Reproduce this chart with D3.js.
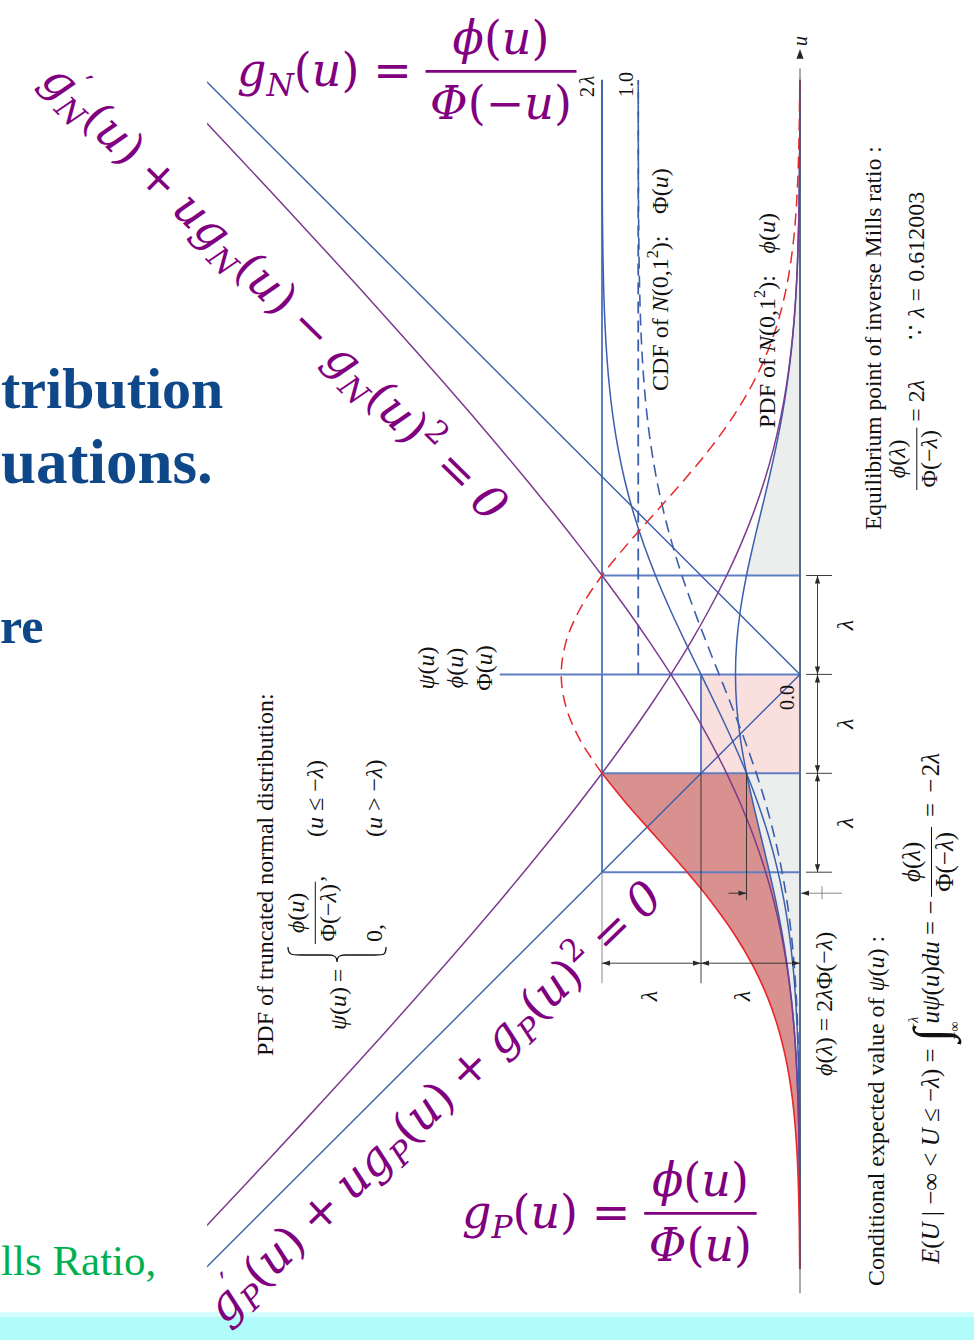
<!DOCTYPE html>
<html>
<head>
<meta charset="utf-8">
<script src="https://cdn.jsdelivr.net/npm/d3@7"></script>
<style>
  body { margin: 0; background: #fff; }
  svg { display: block; }
</style>
</head>
<body>
<svg id="chart" width="974" height="1340"></svg>
<script>
// Equilibrium point of the inverse Mills ratio: phi(l)/Phi(-l) = 2l
const LAMBDA = 0.612003;

// Standard normal N(0,1) tabulated on a grid of u
const uValues = [-3.7,-3.6,-3.4,-3.2,-3.0,-2.8,-2.6,-2.4,-2.2,-2.0,-1.8,-1.6,-1.4,-1.2,-1.0,-0.8,-0.612003,-0.4,-0.2,0,
                 0.2,0.4,0.612003,0.8,1.0,1.2,1.4,1.6,1.8,2.0,2.2,2.4,2.6,2.8,3.0,3.2,3.4,3.6,3.7];
const pdfValues = [0.000425,0.000612,0.001232,0.002384,0.004432,0.007915,0.013583,0.022395,0.035475,0.053991,
                   0.078950,0.110921,0.149727,0.194186,0.241971,0.289692,0.330811,0.368270,0.391043,0.398942,
                   0.391043,0.368270,0.330811,0.289692,0.241971,0.194186,0.149727,0.110921,0.078950,0.053991,
                   0.035475,0.022395,0.013583,0.007915,0.004432,0.002384,0.001232,0.000612,0.000425];
const cdfValues = [0.00010780,0.00015911,0.00033693,0.00068714,0.0013499,0.002555,0.004661,0.008198,0.013903,0.022750,
                   0.035930,0.054799,0.080757,0.115070,0.158655,0.211855,0.270269,0.344578,0.420740,0.5,
                   0.579260,0.655422,0.729731,0.788145,0.841345,0.884930,0.919243,0.945201,0.964070,0.977250,
                   0.986097,0.991802,0.995339,0.997445,0.9986501,0.99931286,0.99966307,0.99984089,0.99989220];

// Guide levels on the u axis and on the value axis
const uLevels = [LAMBDA, 0, -LAMBDA, -2 * LAMBDA];
const uRange = [-3.68, 3.68];
const valueMax = 3.665;
const valueTickLabels = ["2λ", "1.0", "0.0"];
const slideLines = ["tribution", "uations.", "re"];
const slideFooter = "lls Ratio,";

// ---------------------------------------------------------------
const svg = d3.select("#chart");
const W = 974, H = 1340;

// u runs upward, function values run leftward (figure turned a quarter turn)
const yU = d3.scaleLinear().domain([-LAMBDA, LAMBDA]).range([773.3, 575.5]);
const xV = d3.scaleLinear().domain([0, 2 * LAMBDA]).range([800, 602]);

const idxNegL = uValues.indexOf(-0.612003);
const PhiNegL = cdfValues[idxNegL];
const phiL = pdfValues[idxNegL];

const rows = uValues.map((u, i) => {
  const pdf = pdfValues[i], cdf = cdfValues[i];
  return {
    u, pdf, cdf,
    gN: pdf / (1 - cdf),
    gP: pdf / cdf,
    psi: pdf / PhiNegL,
    twoLCdf: 2 * LAMBDA * cdf
  };
});
const eps = 1e-9;
const upperTail = rows.filter(d => d.u >= LAMBDA - eps);
const lowerTail = rows.filter(d => d.u <= -LAMBDA + eps);
const beyond = rows.filter(d => d.u >= -LAMBDA - eps);

const C = {
  ref: "#5f7fc2", blue: "#3b5fac", purple: "#7b3b8e", red: "#e8262b",
  redFill: "#d99190", pink: "#f9dfde", gray: "#eceeee", dim: "#2a2a2a", ext: "#8a8a8a"
};

// ---------------- slide backdrop ----------------
svg.append("rect").attr("x", 0).attr("y", 1312).attr("width", W).attr("height", 28).attr("fill", "#b1fbfb");
svg.append("rect").attr("x", 0).attr("y", 1312).attr("width", W).attr("height", 5).attr("fill", "#d4fdfd");

const titleFont = '"Liberation Serif", "Times New Roman", serif';
[[1, 408, 58], [1, 483, 63], [0, 643, 50]].forEach((p, i) => {
  svg.append("text").attr("x", p[0]).attr("y", p[1])
    .attr("font-family", titleFont).attr("font-weight", "bold").attr("font-size", p[2])
    .attr("fill", "#0f4888").text(slideLines[i]);
});
svg.append("text").attr("x", 1).attr("y", 1275)
  .attr("font-family", titleFont).attr("font-size", 43).attr("fill", "#00b050").text(slideFooter);

// ---------------- plot ----------------
const defs = svg.append("defs");
defs.append("clipPath").attr("id", "plotClip").append("rect")
  .attr("x", xV(valueMax)).attr("y", yU(uRange[1]))
  .attr("width", 812 - xV(valueMax)).attr("height", yU(uRange[0]) - yU(uRange[1]));

const plot = svg.append("g").attr("clip-path", "url(#plotClip)");
const smooth = d3.curveCatmullRom.alpha(0.5);

const lineOf = key => d3.line().x(d => xV(d[key])).y(d => yU(d.u)).curve(smooth);
const areaOf = (k0, k1) => d3.area().y(d => yU(d.u))
  .x0(d => k0 === null ? xV(0) : xV(d[k0])).x1(d => xV(d[k1])).curve(smooth);

// pink square: u in [-l, 0], value in [0, l]
plot.append("rect")
  .attr("x", xV(LAMBDA)).attr("y", yU(0))
  .attr("width", xV(0) - xV(LAMBDA)).attr("height", yU(-LAMBDA) - yU(0))
  .attr("fill", C.pink);

// tails of phi beyond +-lambda
[upperTail, lowerTail].forEach(part => {
  plot.append("path").datum(part).attr("d", areaOf(null, "pdf")).attr("fill", C.gray);
});
// truncated density minus phi, u <= -lambda
plot.append("path").datum(lowerTail).attr("d", areaOf("pdf", "psi")).attr("fill", C.redFill);

// reference grid
const refLine = (x1, y1, x2, y2, color, w) => plot.append("line")
  .attr("x1", x1).attr("y1", y1).attr("x2", x2).attr("y2", y2)
  .attr("stroke", color).attr("stroke-width", w);

refLine(xV(0), yU(uRange[1]), xV(0), yU(uRange[0]), C.ref, 2);
refLine(xV(2 * LAMBDA), yU(uRange[1]), xV(2 * LAMBDA), yU(-2 * LAMBDA), C.ref, 2);
uLevels.forEach(u => {
  const far = u === 0 ? 1.856 : 2 * LAMBDA;
  refLine(xV(0), yU(u), xV(far), yU(u), C.ref, 2);
});
refLine(xV(LAMBDA), yU(0), xV(LAMBDA), yU(-LAMBDA), C.ref, 2);

// value 1.0 guide for u >= 0
plot.append("line").attr("x1", xV(1)).attr("x2", xV(1)).attr("y1", yU(0)).attr("y2", yU(uRange[1]))
  .attr("stroke", C.blue).attr("stroke-width", 1.8).attr("stroke-dasharray", "12,7");

// CDF (dashed)
plot.append("path").datum(rows).attr("d", lineOf("cdf"))
  .attr("fill", "none").attr("stroke", C.blue).attr("stroke-width", 1.6).attr("stroke-dasharray", "12,7");

// |u| asymptotes
const absPts = [{u: -3.7, v: 3.7}, {u: 0, v: 0}, {u: 3.7, v: 3.7}];
plot.append("path").datum(absPts)
  .attr("d", d3.line().x(d => xV(d.v)).y(d => yU(d.u)))
  .attr("fill", "none").attr("stroke", C.blue).attr("stroke-width", 1.4);

// phi and 2*lambda*Phi
["pdf", "twoLCdf"].forEach(k => {
  plot.append("path").datum(rows).attr("d", lineOf(k))
    .attr("fill", "none").attr("stroke", C.blue).attr("stroke-width", 1.5);
});

// inverse Mills ratios
["gN", "gP"].forEach(k => {
  plot.append("path").datum(rows).attr("d", lineOf(k))
    .attr("fill", "none").attr("stroke", C.purple).attr("stroke-width", 1.5);
});

// phi / Phi(-lambda): dashed beyond -lambda, solid on the truncated side
plot.append("path").datum(beyond).attr("d", lineOf("psi"))
  .attr("fill", "none").attr("stroke", C.red).attr("stroke-width", 1.5).attr("stroke-dasharray", "12,7");
plot.append("path").datum(lowerTail).attr("d", lineOf("psi"))
  .attr("fill", "none").attr("stroke", C.red).attr("stroke-width", 1.6);

// ---------------- axis ----------------
svg.append("line").attr("x1", 800).attr("x2", 800).attr("y1", yU(-3.83)).attr("y2", yU(3.75))
  .attr("stroke", "#555").attr("stroke-width", 1);
svg.append("path").attr("d", `M800,${yU(3.87)} L796.5,${yU(3.81)} L803.5,${yU(3.81)} Z`).attr("fill", "#222");

// ---------------- dimension marks ----------------
const dimG = svg.append("g");
const dline = (x1, y1, x2, y2, color, w) => dimG.append("line")
  .attr("x1", x1).attr("y1", y1).attr("x2", x2).attr("y2", y2)
  .attr("stroke", color || C.dim).attr("stroke-width", w || 0.9);
function arrowHead(x, y, dx, dy) {
  const L = 8, hw = 2.6;
  const n = Math.hypot(dx, dy), ux = dx / n, uy = dy / n;
  const bx = x - ux * L, by = y - uy * L;
  dimG.append("path")
    .attr("d", `M${x},${y} L${bx - uy * hw},${by + ux * hw} L${bx + uy * hw},${by - ux * hw} Z`)
    .attr("fill", C.dim);
}
function dimSpan(x1, y1, x2, y2) {
  dline(x1, y1, x2, y2);
  arrowHead(x1, y1, x1 - x2, y1 - y2);
  arrowHead(x2, y2, x2 - x1, y2 - y1);
}

// extension lines below the plot
const yDim = yU(-2 * LAMBDA) + 91;
dline(xV(2 * LAMBDA), yU(-2 * LAMBDA), xV(2 * LAMBDA), yDim + 20, C.ext, 1);
dline(xV(LAMBDA), yU(-LAMBDA), xV(LAMBDA), yDim + 20, C.dim, 0.9);
dline(xV(phiL), yU(-LAMBDA), xV(phiL), yU(-2 * LAMBDA) + 28, C.dim, 0.9);
dimSpan(xV(2 * LAMBDA), yDim, xV(LAMBDA), yDim);
dimSpan(xV(LAMBDA), yDim, xV(0), yDim);

// right-hand span ticks
const xR = 817.5;
uLevels.forEach(u => dline(806, yU(u), 832, yU(u), C.dim, 0.9));
for (let i = 0; i < uLevels.length - 1; i++) dimSpan(xR, yU(uLevels[i]), xR, yU(uLevels[i + 1]));

// phi(lambda) width marker
const yPhi = yU(-2 * LAMBDA) + 21;
dline(xV(phiL) - 18, yPhi, xV(phiL), yPhi);
arrowHead(xV(phiL), yPhi, 1, 0);
dline(842, yPhi, xV(0) + 1, yPhi, C.ext, 1);
arrowHead(xV(0) + 1, yPhi, -1, 0);
dline(822, yPhi - 7, 822, yPhi + 6, C.ext, 1);

// ---------------- typesetting helpers ----------------
const SERIF = {size: 24, family: '"Liberation Serif", "Times New Roman", serif', fill: "#111",
               num: 0.78, den: 0.55, axis: 0.3, rule: 1, pad: 0.1};
const MATH = {size: 46, family: '"DejaVu Serif", serif', fill: "#800080",
              num: 0.7, den: 0.72, axis: 0.32, rule: 2.8, pad: 0.1};

function row(g, items, x, base, st) {
  let cur = x;
  for (const it of items) {
    if (typeof it === "string" || it.i !== undefined) {
      const txt = (typeof it === "string" ? it : it.i).replace(/ /g, "\u00A0");
      const t = g.append("text").attr("x", cur).attr("y", base)
        .attr("font-size", st.size).attr("font-family", st.family).attr("fill", st.fill)
        .attr("font-style", typeof it === "string" ? "normal" : "italic").text(txt);
      cur += t.node().getComputedTextLength();
    } else if (it.sp !== undefined) {
      cur += it.sp * st.size;
    } else if (it.sub || it.sup) {
      const s2 = Object.assign({}, st, {size: st.size * 0.68});
      let w1 = 0, w2 = 0;
      if (it.sup) w1 = row(g, it.sup, cur, base - st.size * 0.4, s2) - cur;
      if (it.sub) w2 = row(g, it.sub, cur, base + st.size * 0.22, s2) - cur;
      cur += Math.max(w1, w2);
    } else if (it.frac) {
      const gn = g.append("g"), gd = g.append("g");
      const wn = row(gn, it.frac[0], 0, base - st.num * st.size, st);
      const wd = row(gd, it.frac[1], 0, base + st.den * st.size, st);
      const pad = st.size * st.pad;
      const wf = Math.max(wn, wd) + 2 * pad;
      gn.attr("transform", `translate(${cur + (wf - wn) / 2},0)`);
      gd.attr("transform", `translate(${cur + (wf - wd) / 2},0)`);
      const ya = base - st.axis * st.size;
      g.append("line").attr("x1", cur).attr("x2", cur + wf).attr("y1", ya).attr("y2", ya)
        .attr("stroke", st.fill).attr("stroke-width", st.rule);
      cur += wf;
    } else if (it.int) {
      const t = g.append("text").attr("x", cur).attr("y", base + st.size * 0.35)
        .attr("font-size", st.size * 2.0).attr("font-family", st.family).attr("fill", st.fill)
        .text("∫");
      const wi = t.node().getComputedTextLength();
      const s2 = Object.assign({}, st, {size: st.size * 0.55});
      row(g, it.int[1], cur + wi * 0.85, base - st.size * 0.85, s2);
      row(g, it.int[0], cur + wi * 0.2, base + st.size * 0.8, s2);
      cur += wi + st.size * 0.2;
    }
  }
  return cur;
}
// group turned so text runs upward
const rot = (x, y) => svg.append("g").attr("transform", `translate(${x},${y}) rotate(-90)`);
const rtext = (x, y, items, st) => row(rot(x, y), items, 0, 0, st);
function centered(g, items, base, st) {
  const inner = g.append("g");
  const w = row(inner, items, 0, base, st);
  inner.attr("transform", `translate(${-w / 2},0)`);
  return w;
}
const S = (o) => Object.assign({}, SERIF, o || {});
const sp = {sp: 0.25};

// ---------------- axis & guide labels ----------------
centered(rot(807, 41), [{i: "u"}], 0, S({size: 20}));
rtext(594, 97, ["2", {sp: 0.12}, {i: "λ"}], S({size: 20}));
rtext(633, 97, [valueTickLabels[1]], S({size: 20}));
rtext(794, 710, [valueTickLabels[2]], S({size: 20}));

rtext(668, 391, ["CDF of ", {i: "N"}, "(0,1", {sup: ["2"]}, "):", {sp: 0.9}, "Φ(", {i: "u"}, ")"], S());
rtext(775, 428, ["PDF of ", {i: "N"}, "(0,1", {sup: ["2"]}, "):", {sp: 0.9}, {i: "ϕ"}, "(", {i: "u"}, ")"], S());

[[434, [{i: "ψ"}, "(", {i: "u"}, ")"]], [463, [{i: "ϕ"}, "(", {i: "u"}, ")"]], [492, ["Φ(", {i: "u"}, ")"]]]
  .forEach(([bx, items]) => centered(rot(bx, 668), items, 0, S()));

// lambda spans
[[657, 996], [750, 996], [853, yU(LAMBDA / 2)], [853, yU(-LAMBDA / 2)], [853, yU(-1.5 * LAMBDA)]]
  .forEach(([bx, cy]) => centered(rot(bx, cy), [{i: "λ"}], 0, S()));

rtext(832, 1076, [{i: "ϕ"}, "(", {i: "λ"}, ")", sp, "=", sp, "2", {i: "λ"}, "Φ(−", {i: "λ"}, ")"], S());

// ---------------- text blocks ----------------
rtext(881, 530, ["Equilibrium point of inverse Mills ratio :"], S({size: 23.5}));
{
  const g = rot(924, 490);
  row(g, [{frac: [[{i: "ϕ"}, "(", {i: "λ"}, ")"], ["Φ(−", {i: "λ"}, ")"]]}, sp, "=", sp, "2", {i: "λ"}], 0, 0, S());
  row(g, ["∵", {sp: 0.3}, {i: "λ"}, sp, "=", sp, "0.612003"], 150, 0, S());
}

rtext(884, 1286, ["Conditional expected value of ", {i: "ψ"}, "(", {i: "u"}, ") :"], S());
{
  const st = S({size: 25, pad: 0.2});
  const wide = {sp: 0.4};
  rtext(939, 1264, [
    {i: "E"}, "(", {i: "U"}, " | −∞", sp, "<", sp, {i: "U"}, sp, "≤", sp, "−", {i: "λ"}, ")", sp, "=", sp,
    {int: [["−∞"], ["−", {i: "λ"}]]}, {i: "uψ"}, "(", {i: "u"}, ")", {i: "du"}, sp, "=", sp, "−", {sp: 0.15},
    {frac: [[{i: "ϕ"}, "(", {i: "λ"}, ")"], ["Φ(−", {i: "λ"}, ")"]]}, wide, "=", wide, "−", {sp: 0.1}, "2", {i: "λ"}
  ], st);
}

rtext(273, 1056, ["PDF of truncated normal distribution:"], S());
{
  const g = rot(346, 1030);
  const st = S();
  row(g, [{i: "ψ"}, "(", {i: "u"}, ")", {sp: 0.2}, "="], 0, 0, st);
  // brace
  g.append("path")
    .attr("d", "M83,-58 C75,-58 75,-54 75,-45 L75,-17 C75,-11 73,-9 68,-9 C73,-9 75,-7 75,-1 L75,29 C75,38 75,40 83,40")
    .attr("fill", "none").attr("stroke", "#111").attr("stroke-width", 1.3);
  row(g, [{frac: [[{i: "ϕ"}, "(", {i: "u"}, ")"], ["Φ(−", {i: "λ"}, ")"]]}, ","], 86, -23.5, st);
  row(g, ["(", {i: "u"}, sp, "≤", sp, "−", {i: "λ"}, ")"], 193, -23, st);
  row(g, ["0,"], 88, 36, st);
  row(g, ["(", {i: "u"}, sp, ">", sp, "−", {i: "λ"}, ")"], 193, 36, st);
}

// ---------------- large purple formulas ----------------
const phiU = [{i: "ϕ"}, "(", {i: "u"}, ")"];
row(svg.append("g"), [{i: "g"}, {sub: [{i: "N"}]}, "(", {i: "u"}, ")", {sp: 0.3}, "=", {sp: 0.3},
  {frac: [phiU, [{i: "Φ"}, "(−", {i: "u"}, ")"]]}], 237, 86, MATH);
row(svg.append("g"), [{i: "g"}, {sub: [{i: "P"}]}, "(", {i: "u"}, ")", {sp: 0.3}, "=", {sp: 0.3},
  {frac: [phiU, [{i: "Φ"}, "(", {i: "u"}, ")"]]}], 462, 1228, MATH);

function diagonal(items, cx, cy, angle) {
  const outer = svg.append("g");
  const inner = outer.append("g");
  const w = row(inner, items, 0, 0, MATH);
  outer.attr("transform", `translate(${cx},${cy}) rotate(${angle})`);
  inner.attr("transform", `translate(${-w / 2},0)`);
}
const gSub = s => [{i: "g"}, {sub: [{i: s}]}, "(", {i: "u"}, ")"];
diagonal([{i: "g"}, {sub: [{i: "N"}], sup: ["′"]}, "(", {i: "u"}, ")", {sp: 0.25}, "+", {sp: 0.25},
  {i: "u"}, ...gSub("N"), {sp: 0.25}, "−", {sp: 0.25}, ...gSub("N"), {sup: ["2"]}, {sp: 0.25}, "=", {sp: 0.25}, {i: "0"}],
  264, 303, 44.5);
diagonal([{i: "g"}, {sub: [{i: "P"}], sup: ["′"]}, "(", {i: "u"}, ")", {sp: 0.25}, "+", {sp: 0.25},
  {i: "u"}, ...gSub("P"), {sp: 0.25}, "+", {sp: 0.25}, ...gSub("P"), {sup: ["2"]}, {sp: 0.25}, "=", {sp: 0.25}, {i: "0"}],
  445, 1113, -44);
</script>
</body>
</html>
